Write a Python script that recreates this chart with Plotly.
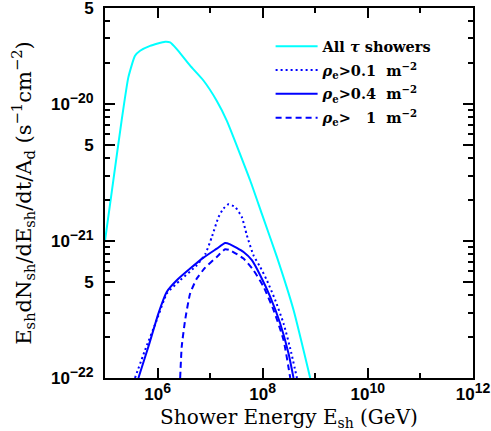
import plotly.graph_objects as go

# All tau showers (cyan)
e_all = [1.0e5, 1.44e5, 2.07e5, 2.78e5, 3.72e5, 4.65e5, 7.2e5, 1.39e6, 1.73e6, 2.32e6,
         4.16e6, 7.46e6, 1.34e7, 2.07e7, 5.78e7, 9.6e7, 1.86e8, 3.86e8, 8.0e8]
f_all = [1.0e-21, 2.76e-21, 7.55e-21, 1.56e-20, 2.24e-20, 2.44e-20, 2.65e-20, 2.84e-20, 2.81e-20, 2.51e-20,
         1.90e-20, 1.48e-20, 1.05e-20, 7.55e-21, 2.76e-21, 1.58e-21, 7.64e-22, 3.13e-22, 1.0e-22]

# rho_e > 0.1 m^-2 (dotted)
e_01 = [3.72e5, 5.78e5, 9.64e5, 1.50e6, 2.69e6, 5.57e6, 8.04e6, 1.08e7, 1.44e7, 1.79e7, 2.23e7,
        2.99e7, 4.01e7, 4.99e7, 6.68e7, 8.95e7, 1.20e8, 1.73e8, 2.49e8, 3.34e8, 4.48e8]
f_01 = [1.0e-22, 1.60e-22, 2.64e-22, 4.13e-22, 5.16e-22, 6.64e-22, 7.98e-22, 1.07e-21, 1.49e-21, 1.72e-21, 1.85e-21,
        1.77e-21, 1.49e-21, 1.10e-21, 7.85e-22, 6.46e-22, 5.16e-22, 3.70e-22, 2.50e-22, 1.64e-22, 1.0e-22]

# rho_e > 0.4 m^-2 (solid)
e_04 = [4.32e5, 6.68e5, 1.04e6, 1.50e6, 2.32e6, 4.16e6, 7.46e6, 1.34e7, 1.93e7, 2.40e7, 4.32e7,
        6.22e7, 8.95e7, 1.39e8, 2.15e8, 3.10e8, 3.86e8]
f_04 = [1.0e-22, 1.69e-22, 2.96e-22, 4.25e-22, 5.16e-22, 6.28e-22, 7.55e-22, 8.79e-22, 9.66e-22, 9.44e-22, 8.30e-22,
        7.23e-22, 5.62e-22, 3.91e-22, 2.50e-22, 1.51e-22, 1.0e-22]

# rho_e > 1 m^-2 (dashed)
e_1 = [2.69e6, 2.88e6, 3.34e6, 4.16e6, 5.57e6, 8.04e6, 1.34e7, 1.93e7, 2.40e7, 4.32e7, 6.68e7,
       1.04e8, 1.61e8, 2.49e8, 3.34e8]
f_1 = [1.0e-22, 1.69e-22, 2.64e-22, 4.13e-22, 5.31e-22, 6.38e-22, 7.64e-22, 8.69e-22, 8.55e-22, 7.43e-22, 6.11e-22,
       4.62e-22, 3.13e-22, 1.89e-22, 1.0e-22]

x_ticks = [1e6, 1e8, 1e10, 1e12]
x_exps = ["6", "8", "10", "12"]
x_minor = [1e7, 1e9, 1e11]
y_ticks = [1e-22, 5e-22, 1e-21, 5e-21, 1e-20, 5e-20]
y_labels = ["−22", "5", "−21", "5", "−20", "5"]
y_minor = [m * d for d in (1e-22, 1e-21) for m in (2, 3, 4, 6, 7, 8, 9)] + [2e-20, 3e-20, 4e-20]

BLUE = "#0000FF"
CYAN = "#00FFFF"
SERIF = "DejaVu Serif"
SANS = "Liberation Sans"


def pow10(exp):
    # superscript a bit larger than plotly's default 70%
    return f'10<sup><span style="font-size:14px">{exp}</span></sup>'


x_ticktext = [pow10(e) for e in x_exps]
y_ticktext = [t if t == "5" else pow10(t) for t in y_labels]

fig = go.Figure()
series = [
    (e_all, f_all, "All <i>τ</i> showers", CYAN, "solid"),
    (e_01, f_01, "<i>ρ</i><sub>e</sub>>0.1  m<sup>−2</sup>", BLUE, "2px,3px"),
    (e_04, f_04, "<i>ρ</i><sub>e</sub>>0.4  m<sup>−2</sup>", BLUE, "solid"),
    (e_1, f_1, "<i>ρ</i><sub>e</sub>>\u00a0\u00a0\u00a01  m<sup>−2</sup>", BLUE, "6px,4px"),
]
for i, (x, y, name, color, dash) in enumerate(series):
    fig.add_trace(go.Scatter(
        x=x, y=y, name=name, mode="lines", legendgroup=str(i),
        line=dict(color=color, width=2, dash=dash, shape="spline", smoothing=0.5),
    ))

axis_common = dict(
    type="log", showgrid=False, zeroline=False, automargin=False,
    showline=True, linecolor="black", linewidth=2, mirror="ticks",
    ticks="inside", ticklen=10, tickwidth=1.5, tickcolor="black",
    ticklabeloverflow="allow",
    tickfont=dict(family=SANS, size=17, color="black", weight="bold"),
)

fig.update_xaxes(
    **axis_common, range=[5, 12], tickmode="array", tickvals=x_ticks, ticktext=x_ticktext,
    minor=dict(tickmode="array", tickvals=x_minor, ticks="inside", ticklen=5, tickwidth=1.5, tickcolor="black"),
    title=dict(text="Shower Energy E<sub>sh</sub> (GeV)", font=dict(family=SERIF, size=20, color="black"), standoff=11),
)
fig.update_yaxes(
    **axis_common, range=[-22, -19.3009], tickmode="array", tickvals=y_ticks, ticktext=y_ticktext,
    ticklabelstandoff=6,
    minor=dict(tickmode="array", tickvals=y_minor, ticks="inside", ticklen=5, tickwidth=1.5, tickcolor="black"),
    title=dict(text="E<sub>sh</sub>dN<sub>sh</sub>/dE<sub>sh</sub>/dt/A<sub>d</sub> (s<sup>−1</sup>cm<sup>−2</sup>)",
               font=dict(family=SERIF, size=21, color="black"), standoff=14),
)

fig.update_layout(
    width=491, height=431,
    margin=dict(l=105, r=18, t=8, b=53),
    plot_bgcolor="white", paper_bgcolor="white",
    legend=dict(x=0.45, y=0.94, xanchor="left", yanchor="top", bgcolor="rgba(0,0,0,0)",
                font=dict(family=SERIF, size=14.5, color="black", weight="bold"),
                tracegroupgap=2, itemwidth=42),
)

fig.write_html("out.html", config={"displayModeBar": False},
               post_script="document.body.style.margin='0';document.body.style.overflow='hidden';")
